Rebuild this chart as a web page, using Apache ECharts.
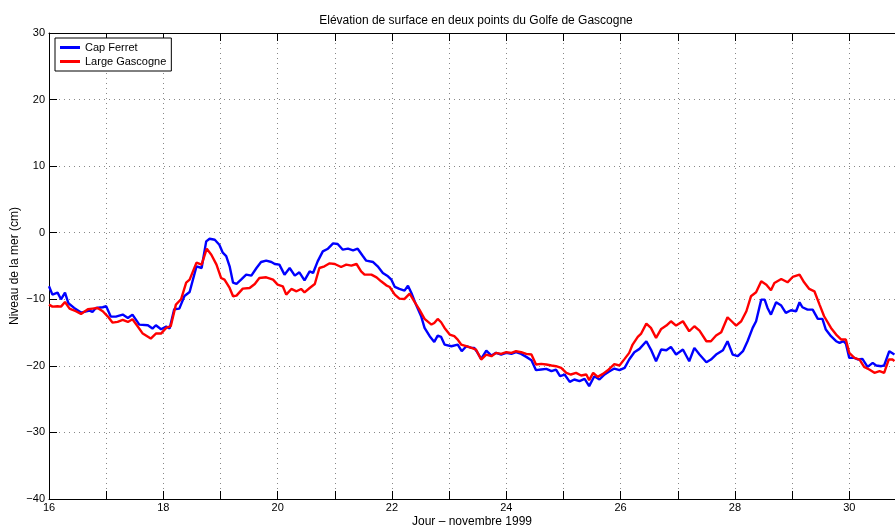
<!DOCTYPE html>
<html>
<head>
<meta charset="utf-8">
<script src="https://cdn.jsdelivr.net/npm/echarts@6/dist/echarts.min.js"></script>
<style>
  html, body { margin: 0; padding: 0; background: #fff; }
  #chart { width: 895px; height: 532px; }
</style>
</head>
<body>
<div id="chart"></div>
<script>
  // niveau de la mer (cm)
  var capDays = [16.0, 16.06, 16.15, 16.21, 16.28, 16.34, 16.44, 16.56, 16.71, 16.76, 16.82, 16.94, 17.0, 17.08, 17.17, 17.29, 17.38, 17.46, 17.58, 17.73, 17.81, 17.87, 17.96, 18.05, 18.11, 18.19, 18.28, 18.37, 18.46, 18.58, 18.67, 18.75, 18.81, 18.90, 18.98, 19.04, 19.10, 19.16, 19.22, 19.28, 19.36, 19.45, 19.54, 19.63, 19.71, 19.80, 19.89, 19.95, 20.03, 20.12, 20.21, 20.30, 20.38, 20.47, 20.56, 20.62, 20.70, 20.79, 20.88, 20.97, 21.05, 21.14, 21.23, 21.32, 21.40, 21.49, 21.55, 21.67, 21.75, 21.84, 21.93, 21.99, 22.05, 22.13, 22.22, 22.28, 22.34, 22.42, 22.51, 22.57, 22.66, 22.74, 22.80, 22.86, 22.92, 23.04, 23.15, 23.22, 23.30, 23.39, 23.44, 23.48, 23.56, 23.65, 23.74, 23.82, 23.91, 24.00, 24.09, 24.17, 24.26, 24.35, 24.44, 24.52, 24.61, 24.70, 24.79, 24.87, 24.94, 25.02, 25.11, 25.19, 25.28, 25.37, 25.45, 25.54, 25.63, 25.72, 25.80, 25.89, 25.98, 26.07, 26.15, 26.24, 26.33, 26.45, 26.53, 26.62, 26.71, 26.80, 26.88, 26.97, 27.09, 27.20, 27.29, 27.38, 27.50, 27.58, 27.67, 27.79, 27.87, 27.96, 28.05, 28.14, 28.22, 28.31, 28.37, 28.46, 28.52, 28.57, 28.63, 28.72, 28.81, 28.89, 28.98, 29.07, 29.13, 29.18, 29.27, 29.36, 29.45, 29.53, 29.59, 29.68, 29.77, 29.83, 29.90, 29.94, 30.00, 30.09, 30.15, 30.23, 30.32, 30.41, 30.47, 30.56, 30.61, 30.70, 30.79];
  var capLevels = [-8.05, -9.3, -9.0, -10.0, -9.0, -10.6, -11.3, -12.0, -11.7, -11.9, -11.3, -11.2, -11.05, -12.6, -12.6, -12.3, -12.8, -12.3, -13.8, -13.9, -14.4, -13.9, -14.5, -14.1, -14.4, -11.5, -11.4, -9.5, -8.9, -5.05, -5.3, -1.3, -0.9, -1.05, -1.8, -3.0, -3.5, -5.05, -7.5, -7.7, -7.05, -6.3, -6.45, -5.3, -4.4, -4.2, -4.4, -4.7, -4.8, -6.3, -5.3, -6.45, -5.95, -7.15, -5.8, -6.05, -4.3, -2.8, -2.4, -1.6, -1.7, -2.55, -2.4, -2.65, -2.4, -3.5, -4.2, -4.4, -5.05, -6.05, -6.55, -7.05, -8.15, -8.45, -8.7, -7.95, -9.05, -10.8, -12.55, -14.3, -15.55, -16.4, -15.45, -15.65, -16.8, -17.05, -16.8, -17.8, -17.05, -17.3, -17.3, -17.8, -18.95, -17.7, -18.45, -18.05, -18.3, -18.05, -18.2, -17.95, -18.2, -18.65, -19.15, -20.65, -20.55, -20.45, -20.8, -20.55, -21.55, -21.3, -22.4, -22.05, -22.3, -21.95, -23.05, -21.55, -22.05, -21.3, -20.85, -20.4, -20.65, -20.3, -19.05, -17.95, -17.45, -16.3, -17.55, -19.3, -17.55, -17.65, -17.15, -18.3, -17.55, -19.3, -17.3, -18.3, -19.45, -19.05, -18.3, -17.65, -16.3, -18.3, -18.55, -17.8, -16.3, -14.3, -13.3, -10.05, -10.05, -11.3, -12.3, -10.45, -10.95, -12.05, -11.65, -11.8, -10.45, -11.2, -11.55, -11.55, -12.95, -12.95, -14.55, -15.55, -16.3, -16.55, -16.3, -16.65, -18.8, -18.8, -19.05, -18.95, -20.15, -19.55, -19.95, -20.05, -19.95, -17.8, -18.3];

  var largeDays = [16.0, 16.06, 16.15, 16.21, 16.28, 16.36, 16.47, 16.56, 16.68, 16.76, 16.85, 16.94, 17.03, 17.11, 17.20, 17.29, 17.38, 17.46, 17.55, 17.64, 17.78, 17.87, 17.96, 18.05, 18.13, 18.22, 18.31, 18.40, 18.46, 18.58, 18.67, 18.76, 18.84, 18.93, 19.01, 19.07, 19.16, 19.22, 19.28, 19.39, 19.51, 19.60, 19.68, 19.80, 19.92, 20.00, 20.09, 20.15, 20.24, 20.33, 20.41, 20.47, 20.56, 20.65, 20.73, 20.82, 20.91, 21.00, 21.11, 21.20, 21.29, 21.38, 21.46, 21.52, 21.64, 21.73, 21.81, 21.90, 21.96, 22.05, 22.13, 22.22, 22.31, 22.39, 22.48, 22.57, 22.69, 22.74, 22.80, 22.86, 22.92, 23.01, 23.09, 23.15, 23.21, 23.30, 23.39, 23.47, 23.56, 23.65, 23.74, 23.82, 23.91, 24.00, 24.09, 24.17, 24.26, 24.35, 24.44, 24.52, 24.61, 24.70, 24.79, 24.87, 24.96, 25.05, 25.13, 25.22, 25.31, 25.40, 25.45, 25.52, 25.60, 25.69, 25.77, 25.89, 25.98, 26.07, 26.15, 26.21, 26.30, 26.36, 26.45, 26.53, 26.62, 26.71, 26.80, 26.88, 26.97, 27.09, 27.20, 27.29, 27.38, 27.50, 27.58, 27.67, 27.76, 27.87, 27.96, 28.02, 28.11, 28.20, 28.28, 28.37, 28.46, 28.55, 28.63, 28.69, 28.81, 28.92, 29.01, 29.13, 29.21, 29.30, 29.39, 29.48, 29.56, 29.68, 29.77, 29.86, 29.94, 30.00, 30.09, 30.18, 30.26, 30.35, 30.44, 30.53, 30.61, 30.69, 30.76, 30.79];
  var largeLevels = [-10.8, -11.1, -11.05, -11.1, -10.4, -11.4, -11.8, -12.2, -11.5, -11.4, -11.3, -11.8, -12.6, -13.5, -13.4, -13.1, -13.4, -13.0, -14.05, -15.15, -15.9, -15.15, -15.15, -14.3, -14.05, -10.8, -10.0, -7.5, -7.05, -4.5, -4.8, -2.4, -3.3, -4.8, -6.8, -7.05, -8.3, -9.55, -9.45, -8.4, -8.3, -7.7, -6.8, -6.7, -7.05, -7.8, -8.05, -9.3, -8.45, -8.8, -8.45, -8.95, -8.3, -7.7, -5.3, -5.05, -4.6, -4.7, -5.15, -4.8, -4.95, -4.7, -5.8, -6.3, -6.3, -6.7, -7.3, -7.9, -8.15, -9.3, -9.9, -9.95, -9.15, -10.3, -11.55, -12.95, -13.8, -13.55, -12.95, -13.45, -14.3, -15.3, -15.55, -16.05, -16.8, -17.05, -17.3, -17.55, -19.05, -18.3, -18.55, -18.05, -18.2, -17.95, -18.05, -17.8, -17.95, -18.2, -18.3, -19.8, -19.7, -19.8, -19.95, -20.05, -20.3, -21.05, -21.3, -21.05, -21.45, -21.3, -22.15, -21.05, -21.65, -21.2, -20.7, -19.75, -19.95, -18.95, -18.05, -16.8, -15.65, -15.15, -13.65, -14.3, -15.8, -14.45, -13.95, -13.3, -13.95, -13.3, -14.8, -14.05, -14.7, -16.3, -16.3, -15.45, -14.95, -12.7, -13.45, -13.95, -13.3, -11.8, -9.55, -8.95, -7.3, -7.8, -8.65, -7.55, -6.95, -7.45, -6.65, -6.3, -7.45, -8.45, -8.8, -10.8, -12.55, -14.3, -15.3, -16.05, -16.05, -18.05, -18.8, -19.05, -20.15, -20.55, -21.05, -20.8, -21.05, -19.05, -19.05, -19.3];

  var seriesNames = ["Cap Ferret", "Large Gascogne"];
  var seriesColors = ["#0000ff", "#ff0000"];

  function pairs(xs, ys) {
    var out = [];
    for (var i = 0; i < xs.length; i++) out.push([xs[i], ys[i]]);
    return out;
  }
  function minus(v) {
    return String(v).replace("-", "\u2212");
  }

  var font = "Liberation Sans, Arial, Helvetica, sans-serif";
  var gridLine = { show: true, lineStyle: { color: "#888", type: [1, 4], width: 1 } };

  var chart = echarts.init(document.getElementById("chart"));
  chart.setOption({
    animation: false,
    backgroundColor: "#fff",
    textStyle: { fontFamily: font },
    title: {
      text: "Elévation de surface en deux points du Golfe de Gascogne",
      left: 471,
      top: 10,
      textAlign: "center",
      textStyle: { fontSize: 12, fontWeight: "normal", color: "#000", fontFamily: font }
    },
    legend: {
      orient: "vertical",
      left: 55,
      top: 38,
      padding: [4, 5, 4, 5],
      itemGap: 3,
      itemWidth: 20,
      itemHeight: 3,
      icon: "rect",
      borderColor: "#000",
      borderWidth: 1,
      backgroundColor: "#fff",
      textStyle: { fontSize: 11, color: "#000" },
      data: seriesNames
    },
    grid: { left: 49, right: 0, top: 33, bottom: 33, containLabel: false, outerBoundsMode: "none" },
    xAxis: [{
      type: "value",
      min: 16,
      max: 30.8,
      interval: 1,
      position: "bottom",
      name: "Jour \u2013 novembre 1999",
      nameLocation: "middle",
      nameGap: 17,
      nameMoveOverlap: false,
      nameTextStyle: { fontSize: 12, color: "#000" },
      axisLine: { show: true, onZero: false, lineStyle: { color: "#000", width: 1 } },
      axisTick: { show: true, inside: true, length: 8, lineStyle: { color: "#000" } },
      axisLabel: {
        fontSize: 11, color: "#000", margin: 3,
        formatter: function (v) { return v % 2 === 0 ? String(v) : ""; }
      },
      splitLine: gridLine
    }, {
      type: "value",
      min: 16,
      max: 30.8,
      interval: 1,
      position: "top",
      axisLine: { show: true, onZero: false, lineStyle: { color: "#000", width: 1 } },
      axisTick: { show: true, inside: true, length: 8, lineStyle: { color: "#000" } },
      axisLabel: { show: false },
      splitLine: { show: false }
    }],
    yAxis: {
      type: "value",
      min: -40,
      max: 30,
      interval: 10,
      name: "Niveau de la mer (cm)",
      nameLocation: "middle",
      nameGap: 28,
      nameMoveOverlap: false,
      nameTextStyle: { fontSize: 12, color: "#000" },
      axisLine: { show: true, onZero: false, lineStyle: { color: "#000", width: 1 } },
      axisTick: { show: true, inside: true, length: 8, lineStyle: { color: "#000" } },
      axisLabel: { fontSize: 11, color: "#000", margin: 4, formatter: minus },
      splitLine: gridLine
    },
    series: [{
      name: seriesNames[0],
      type: "line",
      showSymbol: false,
      color: seriesColors[0],
      lineStyle: { width: 2.4, color: seriesColors[0] },
      data: pairs(capDays, capLevels)
    }, {
      name: seriesNames[1],
      type: "line",
      showSymbol: false,
      color: seriesColors[1],
      lineStyle: { width: 2.4, color: seriesColors[1] },
      data: pairs(largeDays, largeLevels)
    }]
  });
</script>
</body>
</html>
